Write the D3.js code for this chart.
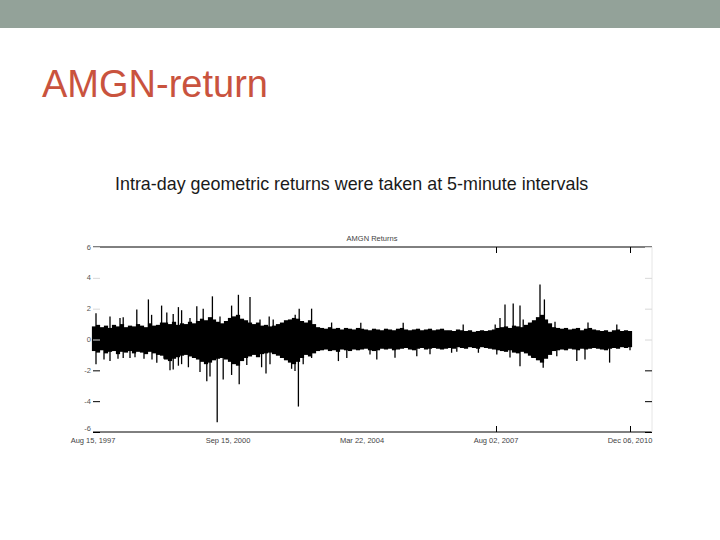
<!DOCTYPE html>
<html>
<head>
<meta charset="utf-8">
<script src="https://cdnjs.cloudflare.com/ajax/libs/d3/7.8.5/d3.min.js"></script>
<style>
    body { margin: 0; background: #fff; }
    svg { display: block; }
</style>
</head>
<body>
<div id="slide"></div>
<script>
var w = 720,
    h = 540;

// y tick values and x tick labels (x axis is observation index, labels are dates)
var yTicks = [6, 4, 2, 0, -2, -4, -6];
var dateLabels = ["Aug 15, 1997", "Sep 15, 2000", "Mar 22, 2004", "Aug 02, 2007", "Dec 06, 2010"];

// dense band of returns, one upper / lower value per block of observations
var bandHi = [0.85, 0.95, 0.8, 0.9, 0.75, 0.95, 0.85, 1.0, 0.8, 0.9, 0.85, 1.0, 0.9, 0.8, 1.05, 0.9, 0.95, 1.1,
    1.1, 1.0, 1.15, 0.95, 1.05,
    1.0, 1.15, 1.05, 1.2,
    1.35, 1.25, 1.45, 1.3,
    1.15, 1.05, 1.2,
    1.4, 1.5, 1.6, 1.35,
    1.25, 1.1, 1.0, 1.1,
    0.9, 0.95, 0.85, 0.9, 1.0,
    1.1, 1.25, 1.3, 1.4, 1.35,
    1.2, 1.1, 1.25, 1.0,
    0.8, 0.75, 0.7, 0.8, 0.7, 0.75, 0.65, 0.75, 0.7, 0.65, 0.75,
    0.7, 0.65, 0.6, 0.7, 0.65, 0.6, 0.7, 0.65, 0.6, 0.7, 0.75, 0.65, 0.6, 0.65, 0.7, 0.6, 0.65, 0.7, 0.6, 0.65, 0.7, 0.6,
    0.6, 0.55, 0.65, 0.6, 0.55, 0.6, 0.5, 0.55, 0.6, 0.55, 0.6, 0.65, 0.75,
    0.8, 0.85, 0.75, 0.9, 0.85, 0.8,
    0.95, 1.1, 1.25, 1.45, 1.6, 1.3, 1.05,
    0.8, 0.75, 0.7, 0.75, 0.65, 0.7, 0.75, 0.6, 0.7, 0.75, 0.65, 0.6, 0.55, 0.6, 0.5, 0.6, 0.65, 0.55, 0.6, 0.55];

var bandLo = [-0.75, -0.85, -0.7, -0.9, -0.8, -0.75, -0.95, -0.8, -0.85, -0.75, -0.9, -0.8, -0.85, -0.95, -0.8, -0.9, -1.0, -1.05,
    -1.3, -1.4, -1.25, -1.15, -1.05,
    -1.0, -1.1, -1.2, -1.3,
    -1.45, -1.6, -1.5, -1.35,
    -1.25, -1.2, -1.3,
    -1.45, -1.6, -1.7, -1.4,
    -1.2, -1.1, -1.0, -1.15,
    -0.95, -0.9, -0.85, -0.95, -1.05,
    -1.2, -1.35, -1.5, -1.6, -1.45,
    -1.2, -1.0, -1.1, -0.9,
    -0.75, -0.7, -0.65, -0.75, -0.7, -0.8, -0.65, -0.7, -0.75, -0.65, -0.7,
    -0.65, -0.6, -0.7, -0.75, -0.7, -0.6, -0.65, -0.6, -0.7, -0.65, -0.6, -0.55, -0.65, -0.7, -0.6, -0.55, -0.65, -0.6, -0.55, -0.6, -0.65, -0.6,
    -0.55, -0.6, -0.5, -0.55, -0.6, -0.5, -0.55, -0.6, -0.5, -0.55, -0.6, -0.65, -0.7,
    -0.75, -0.8, -0.7, -0.85, -0.9, -0.8,
    -0.9, -1.05, -1.2, -1.35, -1.5, -1.25, -1.0,
    -0.75, -0.7, -0.65, -0.7, -0.6, -0.65, -0.7, -0.6, -0.65, -0.6, -0.55, -0.6, -0.65, -0.7, -0.6, -0.55, -0.6, -0.5, -0.55, -0.5];

// single large returns: [block position, return]
var spikes = [
    [0.5, 1.7], [4, 1.5], [6.5, 1.4], [7.3, 1.45], [10.7, 1.95], [13.6, 2.6], [14.4, 1.6], [16.9, 2.2],
    [18.2, 1.75], [19.8, 1.65], [21.1, 2.1], [21.9, 1.9], [24, 1.4], [25.7, 2.16], [27.3, 2.0], [29.6, 2.8],
    [31.5, 1.5], [34.4, 2.2], [36.1, 2.9], [39, 2.75], [41.5, 1.3], [43.8, 1.5], [44.8, 1.3], [50.3, 1.6],
    [51.3, 2.0], [54.4, 2.0], [59.4, 1.1], [66.7, 1.08], [77.3, 1.08], [92.3, 0.97], [100.3, 0.97], [101.5, 1.4],
    [102.75, 2.27], [104.8, 2.33], [106.5, 2.2], [107.3, 1.3], [109.4, 1.08], [111.5, 3.57], [112.6, 2.6],
    [115.25, 1.15], [123.5, 1.1], [130.7, 0.97],
    [0.5, -1.6], [2.5, -1.3], [4, -1.4], [6, -1.25], [7.3, -1.2], [9, -1.2], [10.25, -1.15], [12.5, -1.25],
    [14.5, -1.3], [15.7, -1.5], [17.5, -1.25], [19, -2.0], [19.8, -1.95], [21.1, -1.7], [21.9, -1.6], [23.6, -1.8],
    [26.5, -2.1], [28.2, -2.7], [29, -2.4], [30.8, -5.36], [32.3, -2.6], [34.4, -2.3], [36.3, -2.9], [38.2, -1.65],
    [41.9, -1.8], [43, -2.2], [44, -1.6], [49.4, -1.9], [50.25, -2.05], [51.1, -4.35], [52.3, -1.6], [54.4, -1.2],
    [61.1, -1.4], [63.2, -1.2], [69, -0.97], [70.7, -1.3], [75.25, -1.19], [80.7, -1.08], [84, -0.95], [89.4, -0.86],
    [90.7, -0.8], [96.1, -0.86], [100.7, -0.97], [104, -1.17], [106.5, -1.73], [109.4, -1.19], [112.3, -1.84],
    [115.7, -1.08], [120.7, -1.4], [122.75, -1.3], [128.9, -1.5], [134, -0.7]
];

var svg = d3.select("#slide").append("svg")
    .attr("width", w)
    .attr("height", h);

// slide header band and title
svg.append("rect")
    .attr("x", 0).attr("y", 0)
    .attr("width", w).attr("height", 28)
    .style("fill", "#93a299");

svg.append("text")
    .attr("x", 42).attr("y", 97)
    .text("AMGN-return")
    .style("font-family", "Liberation Sans, Arial, sans-serif")
    .style("font-size", "38px")
    .style("fill", "#c9533e");

svg.append("text")
    .attr("x", 115).attr("y", 190)
    .text("Intra-day geometric returns were taken at 5-minute intervals")
    .style("font-family", "Liberation Sans, Arial, sans-serif")
    .style("font-size", "17.9px")
    .style("fill", "#1a1a1a");

// plot area
var plotL = 93, plotR = 652, plotT = 247, plotB = 432;
var n = bandHi.length;

var x = d3.scaleLinear()
    .domain([0, n - 1])
    .range([94, 630]);

var y = d3.scaleLinear()
    .domain([-6, 6])
    .range([plotB, plotT]);

var tickPos = dateLabels.map(function (d, i) {
    return (n - 1) * i / (dateLabels.length - 1);
});

svg.append("text")
    .attr("x", 372).attr("y", 241)
    .text("AMGN Returns")
    .style("font-family", "Liberation Sans, Arial, sans-serif")
    .style("font-size", "7.5px")
    .style("text-anchor", "middle")
    .style("fill", "#444");

var g = svg.append("g");

// band columns
g.selectAll("line.band")
    .data(d3.range(n))
    .enter()
    .append("line")
    .attr("class", "band")
    .attr("x1", function (i) { return x(i); })
    .attr("x2", function (i) { return x(i); })
    .attr("y1", function (i) { return y(bandHi[i]); })
    .attr("y2", function (i) { return y(bandLo[i]); })
    .style("stroke", "#000")
    .style("stroke-width", 4.2);

// spikes
g.selectAll("line.spike")
    .data(spikes)
    .enter()
    .append("line")
    .attr("class", "spike")
    .attr("x1", function (d) { return x(d[0]); })
    .attr("x2", function (d) { return x(d[0]); })
    .attr("y1", y(0))
    .attr("y2", function (d) { return y(d[1]); })
    .style("stroke", "#000")
    .style("stroke-width", 1.3);

// frame: top and bottom lines, faint right edge
svg.append("line")
    .attr("x1", plotL).attr("x2", plotR)
    .attr("y1", plotT).attr("y2", plotT)
    .style("stroke", "#000");
svg.append("line")
    .attr("x1", plotL).attr("x2", plotR)
    .attr("y1", plotB).attr("y2", plotB)
    .style("stroke", "#000");
svg.append("line")
    .attr("x1", plotR).attr("x2", plotR)
    .attr("y1", plotT).attr("y2", plotB)
    .style("stroke", "#e6e6e6");

// y ticks on both sides (upper ones are faint in the original)
var yAxisL = d3.axisRight(y).tickValues(yTicks).tickSize(7).tickFormat("");
var yAxisR = d3.axisLeft(y).tickValues(yTicks).tickSize(7).tickFormat("");
svg.append("g").attr("class", "yax").attr("transform", "translate(" + plotL + ",0)").call(yAxisL);
svg.append("g").attr("class", "yax").attr("transform", "translate(" + plotR + ",0)").call(yAxisR);
svg.selectAll(".yax .tick line")
    .style("stroke", function (d) { return d < 0 ? "#000" : "#d8d8d8"; });

svg.selectAll("text.ylab")
    .data(yTicks)
    .enter()
    .append("text")
    .attr("class", "ylab")
    .attr("x", 91)
    .attr("y", function (d) { return d === -6 ? y(d) - 4 : y(d); })
    .attr("dy", "0.35em")
    .text(function (d) { return d; })
    .style("font-family", "Liberation Sans, Arial, sans-serif")
    .style("font-size", "7.5px")
    .style("text-anchor", "end")
    .style("fill", "#555");

// x ticks top and bottom, only the later two show in the original
var xAxisB = d3.axisTop(x).tickValues(tickPos.slice(3)).tickSize(6).tickFormat("");
var xAxisT = d3.axisBottom(x).tickValues(tickPos.slice(3)).tickSize(6).tickFormat("");
svg.append("g").attr("class", "xax").attr("transform", "translate(0," + plotB + ")").call(xAxisB);
svg.append("g").attr("class", "xax").attr("transform", "translate(0," + plotT + ")").call(xAxisT);
svg.selectAll(".xax .tick line").style("stroke", "#000");

svg.selectAll("text.xlab")
    .data(dateLabels)
    .enter()
    .append("text")
    .attr("class", "xlab")
    .attr("x", function (d, i) { return x(tickPos[i]) - (i === 0 ? 1 : 0); })
    .attr("y", 443)
    .text(function (d) { return d; })
    .style("font-family", "Liberation Sans, Arial, sans-serif")
    .style("font-size", "7.5px")
    .style("text-anchor", "middle")
    .style("fill", "#444");

svg.selectAll(".domain").remove();
</script>
</body>
</html>
